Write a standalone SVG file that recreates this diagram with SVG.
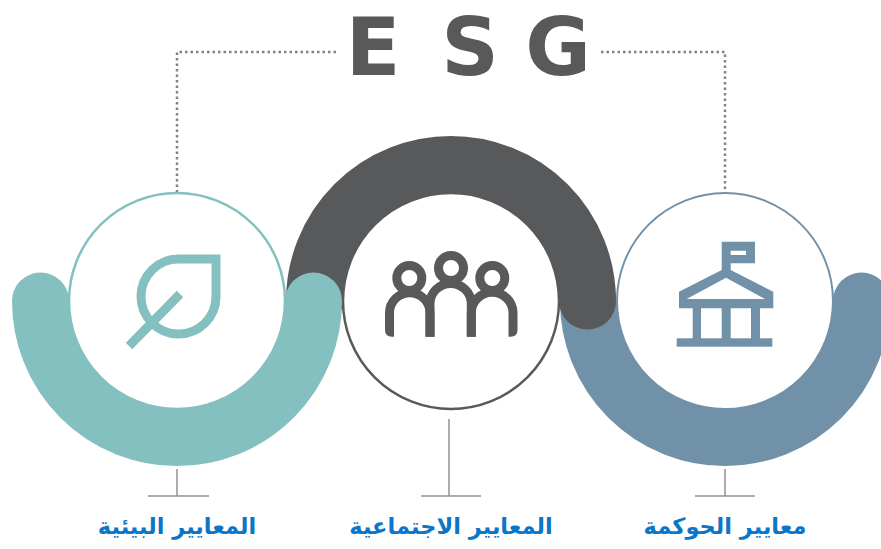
<svg xmlns="http://www.w3.org/2000/svg" width="881" height="549" viewBox="0 0 881 549">
<style>
.arc{fill:none;stroke-width:57;stroke-linecap:round}
.dot{fill:none;stroke:#808285;stroke-width:2.5;stroke-dasharray:2.5 3}
.tick{fill:none;stroke:#8f9194;stroke-width:1.5}
.lbl{font-family:"DejaVu Sans",sans-serif;font-weight:700;font-size:22.500px;fill:#0a75c9;text-anchor:middle}
.esg{font-family:"DejaVu Sans",sans-serif;font-weight:700;font-size:80px;fill:#58595b;text-anchor:middle}
</style>
<rect width="881" height="549" fill="#fff"/>
<g id="connectors">
<path class="dot" d="M336 52H177V192"/>
<path class="dot" d="M601 52H725V192"/>
<path class="tick" d="M177 469V496M148 496H209"/>
<path class="tick" d="M449 419V496M421 496H481"/>
<path class="tick" d="M725 469V496M695 496H755"/>
</g>
<g id="title">
<text class="esg" x="373" y="74.500">E</text>
<text class="esg" x="470" y="74.500">S</text>
<text class="esg" x="558" y="74.500">G</text>
</g>
<g id="node-governance">
<path class="arc" stroke="#7191a8" d="M588.500 301A136.500 136.500 0 0 0 861.500 301"/>
<circle cx="725" cy="301" r="108" fill="#fff" stroke="#7191a8" stroke-width="2"/>
<g fill="#7191a8">
<path fill-rule="evenodd" d="M721.700 241.700H755V263.300H730.700V270L773.300 291.700V308.300H679V291.700L721.700 270ZM730.700 250.700V255H746V250.700ZM726 277.700L686.700 299H765Z"/>
<rect x="692.700" y="308" width="8.300" height="31"/><rect x="721.700" y="308" width="9" height="31"/><rect x="751" y="308" width="9" height="31"/>
<rect x="676.700" y="338.300" width="95.600" height="8.400"/>
</g>
<text class="lbl" x="725" y="534">معايير الحوكمة</text>
</g>
<g id="node-social">
<path class="arc" stroke="#58595b" d="M314.500 301A136.500 136.500 0 0 1 587.500 301"/>
<circle cx="451" cy="301" r="108" fill="#fff" stroke="#58595b" stroke-width="2.500"/>
<g fill="none" stroke="#58595b" stroke-width="9">
<circle cx="409.300" cy="278" r="12.500"/><circle cx="451" cy="268" r="12.500"/><circle cx="492.300" cy="278" r="12.500"/>
<path d="M389.500 330V313A20.250 20.250 0 0 1 430 313V336.700"/>
<path d="M430 336.700V304A20.650 20.650 0 0 1 471.300 304V336.700"/>
<path d="M471.300 336.700V313A20.850 20.850 0 0 1 513 313V330"/>
</g>
<path fill="#58595b" d="M385 330Q385 336.700 392 336.700H394V330ZM517.500 330Q517.500 336.700 510.500 336.700H508.500V330Z"/>
<text class="lbl" x="451" y="534">المعايير الاجتماعية</text>
</g>
<g id="node-environment">
<path class="arc" stroke="#84c0bf" d="M40.500 301A136.500 136.500 0 0 0 313.500 301"/>
<circle cx="177" cy="301" r="108" fill="#fff" stroke="#84c0bf" stroke-width="2.500"/>
<g fill="none" stroke="#84c0bf" stroke-width="9">
<path d="M216 259H179A37.500 37.500 0 1 0 216 296.500Z"/>
<path d="M180 294L129 346"/>
</g>
<text class="lbl" x="177" y="534">المعايير البيئية</text>
</g>
</svg>
